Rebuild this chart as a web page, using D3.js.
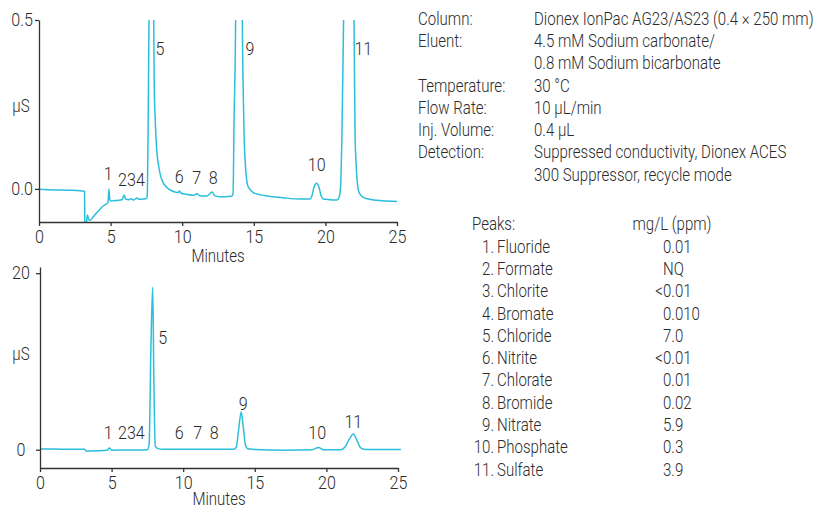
<!DOCTYPE html>
<html>
<head>
<meta charset="utf-8">
<script src="https://cdn.jsdelivr.net/npm/d3@7"></script>
<style>
  body { margin: 0; background: #fff; }
  svg text { font-family: "Roboto", "Liberation Sans", sans-serif; font-weight: 300; fill: #2b2b2b; }
  .axis path, .axis line { stroke: #333; stroke-width: 1.3; }
  .trace { fill: none; stroke: #2bbfdc; stroke-width: 1.5; }
</style>
</head>
<body>
<svg id="chart" width="839" height="510"></svg>
<script>
// top chromatogram (zoomed baseline)
const topMinutes = [0, 1, 2, 3, 3.18, 3.2, 3.3, 3.38, 3.5, 3.6, 3.8, 4.0, 4.26, 4.5, 4.72, 4.82, 4.88, 4.94, 5.0,
  5.2, 5.5, 5.8, 5.95, 6.05, 6.3, 6.45, 6.6, 6.85, 7.0, 7.3, 7.5, 7.56, 7.6, 7.68, 7.85, 8.01, 8.05, 8.12, 8.22,
  8.35, 8.45, 8.65, 8.92, 9.2, 9.5, 9.7, 9.8, 9.9, 10.3, 10.8, 11.05, 11.2, 11.7, 12.0, 12.1, 12.25, 12.6, 13.0,
  13.45, 13.55, 13.62, 13.73, 13.95, 14.2, 14.28, 14.39, 14.6, 14.96, 15.4, 15.9, 17.0, 18.2, 18.9, 19.05, 19.2,
  19.39, 19.55, 19.7, 19.85, 20.3, 20.8, 20.95, 21.05, 21.15, 21.27, 21.7, 22.0, 22.07, 22.15, 22.3, 22.45, 22.65,
  23.0, 23.35, 24.0, 25.0];
const topMicroS = [-0.001, -0.003, -0.004, -0.006, -0.007, -0.1, -0.105, -0.077, -0.093, -0.092, -0.082, -0.072,
  -0.06, -0.05, -0.044, -0.04, 0.0, -0.03, -0.036, -0.035, -0.034, -0.032, -0.018, -0.03, -0.032, -0.029, -0.033,
  -0.027, -0.031, -0.03, -0.028, -0.02, 0.1, 0.5, 18.4, 0.5, 0.3, 0.2, 0.115, 0.07, 0.046, 0.02, 0.005, -0.004,
  -0.009, -0.011, -0.006, -0.012, -0.016, -0.019, -0.014, -0.02, -0.021, -0.012, -0.009, -0.02, -0.023, -0.023,
  -0.022, -0.015, 0.2, 0.5, 4.3, 0.5, 0.25, 0.086, 0.007, -0.011, -0.017, -0.021, -0.026, -0.03, -0.03, -0.022,
  0.005, 0.017, 0.005, -0.02, -0.03, -0.032, -0.033, -0.025, 0.0, 0.15, 0.5, 1.8, 0.5, 0.165, 0.07, -0.003,
  -0.018, -0.025, -0.03, -0.033, -0.035, -0.037];

// bottom chromatogram (full scale)
const bottomMinutes = [0, 1, 2, 3.1, 3.25, 4.0, 4.7, 4.85, 5.0, 6.0, 7.0, 7.5, 7.62, 7.75, 7.87, 7.95, 8.05, 8.2,
  8.6, 10, 12, 13.5, 13.7, 13.85, 14.05, 14.2, 14.35, 14.5, 15, 17, 19, 19.45, 19.8, 21.0, 21.3, 21.6, 21.88,
  22.1, 22.4, 22.7, 25.2];
const bottomMicroS = [0.08, 0.07, 0.06, 0.05, -0.15, -0.12, -0.05, 0.2, -0.05, -0.02, -0.02, 0.0, 0.6, 12, 18.4,
  8, 0.4, 0.15, 0.05, 0.05, 0.05, 0.05, 0.25, 2.0, 4.27, 2.5, 0.5, 0.1, 0.03, -0.05, 0.0, 0.25, 0.0, 0.0, 0.3,
  1.2, 1.78, 1.2, 0.2, 0.03, 0.02];

// peak number labels: [text, minutes, µS]
const topPeakLabels = [["1", 4.84, 0.039], ["234", 6.46, 0.022], ["5", 8.45, 0.409], ["6", 9.8, 0.032],
  ["7", 11.01, 0.027], ["8", 12.17, 0.029], ["9", 14.74, 0.409], ["10", 19.39, 0.066], ["11", 22.65, 0.409]];
const bottomPeakLabels = [["1", 4.77, 1.7], ["234", 6.38, 1.7], ["5", 8.57, 12.5], ["6", 9.73, 1.7],
  ["7", 11.01, 1.7], ["8", 12.17, 1.7], ["9", 14.2, 5.0], ["10", 19.36, 1.7], ["11", 21.88, 3.04]];

const xTicks = [0, 5, 10, 15, 20, 25];
const topYTicks = [0, 0.5];
const bottomYTicks = [0, 20];

const conditionLabels = ["Column:", "Eluent:", "", "Temperature:", "Flow Rate:", "Inj. Volume:", "Detection:", ""];
const conditionValues = ["Dionex IonPac AG23/AS23 (0.4 × 250 mm)", "4.5 mM Sodium carbonate/",
  "0.8 mM Sodium bicarbonate", "30 °C", "10 µL/min", "0.4 µL", "Suppressed conductivity, Dionex ACES",
  "300 Suppressor, recycle mode"];

const peakNames = ["Fluoride", "Formate", "Chlorite", "Bromate", "Chloride", "Nitrite", "Chlorate", "Bromide",
  "Nitrate", "Phosphate", "Sulfate"];
const peakConcentrations = ["0.01", "NQ", "<0.01", "0.010", "7.0", "<0.01", "0.01", "0.02", "5.9", "0.3", "3.9"];

const svg = d3.select("#chart");
const fontSize = 17.5;
const wordSquash = 0.86;   // the original uses a condensed face
const digitSquash = 0.92;

// squeeze text horizontally around its own x anchor
function condense(sel, k) {
    sel.each(function() {
        const t = d3.select(this);
        const x = +t.attr("x") || 0;
        t.attr("transform", `translate(${x},0) scale(${k},1) translate(${-x},0)`);
    });
}

function drawPanel(opts) {
    const g = svg.append("g");
    const x = d3.scaleLinear().domain([0, 25]).range([opts.left, opts.right]);
    const y = d3.scaleLinear().domain(opts.yDomain).range([opts.bottom, opts.top]);

    g.append("clipPath").attr("id", opts.id)
        .append("rect")
        .attr("x", opts.left).attr("y", opts.top)
        .attr("width", opts.right - opts.left + 10).attr("height", opts.bottom - opts.top);

    const points = opts.minutes.map((t, i) => [t, opts.values[i]]);
    const line = d3.line().x(d => x(d[0])).y(d => y(d[1])).curve(d3.curveMonotoneX);

    g.append("path")
        .attr("class", "trace")
        .attr("clip-path", `url(#${opts.id})`)
        .attr("d", line(points));

    const xAxis = g.append("g")
        .attr("class", "axis")
        .attr("transform", `translate(0,${opts.bottom})`)
        .call(d3.axisBottom(x).tickValues(xTicks).tickSize(4).tickSizeOuter(0).tickPadding(5));
    xAxis.attr("font-family", null);
    xAxis.selectAll("text").attr("font-size", fontSize).style("fill", "#2b2b2b")
        .call(condense, digitSquash);

    const yAxis = g.append("g")
        .attr("class", "axis")
        .attr("transform", `translate(${opts.left},0)`)
        .call(d3.axisLeft(y).tickValues(opts.yTicks).tickFormat(opts.yFormat)
            .tickSize(4).tickSizeOuter(0).tickPadding(opts.yPad));
    yAxis.attr("font-family", null);
    yAxis.selectAll("text").attr("font-size", fontSize).style("fill", "#2b2b2b")
        .attr("text-anchor", opts.yAnchor).attr("x", opts.yLabelX)
        .call(condense, digitSquash);

    g.append("text")
        .attr("x", 21).attr("y", opts.unitY)
        .attr("text-anchor", "middle").attr("dominant-baseline", "middle")
        .attr("font-size", fontSize)
        .text("µS")
        .call(condense, wordSquash);

    g.append("text")
        .attr("x", (opts.left + opts.right) / 2).attr("y", opts.titleY)
        .attr("text-anchor", "middle").attr("dominant-baseline", "middle")
        .attr("font-size", fontSize)
        .text("Minutes")
        .call(condense, wordSquash);

    g.selectAll(".peak")
        .data(opts.labels)
        .join("text")
        .attr("class", "peak")
        .attr("x", d => x(d[1])).attr("y", d => y(d[2]))
        .attr("text-anchor", "middle").attr("dominant-baseline", "middle")
        .attr("font-size", fontSize)
        .text(d => d[0])
        .call(condense, digitSquash);
}

drawPanel({
    id: "clipTop", left: 39, right: 397, top: 20, bottom: 222,
    yDomain: [-0.098, 0.5], yTicks: topYTicks, yFormat: d3.format(".1f"),
    yPad: 2, yAnchor: "end", yLabelX: -6,
    minutes: topMinutes, values: topMicroS, labels: topPeakLabels,
    unitY: 107, titleY: 257
});

drawPanel({
    id: "clipBottom", left: 40, right: 398, top: 267, bottom: 468,
    yDomain: [-2.07, 20.7], yTicks: bottomYTicks, yFormat: d3.format("d"),
    yPad: 2, yAnchor: "middle", yLabelX: -19,
    minutes: bottomMinutes, values: bottomMicroS, labels: bottomPeakLabels,
    unitY: 355, titleY: 500
});

// conditions block
const lineH = 22.3;
const cond = svg.append("g").attr("font-size", fontSize);
cond.selectAll(".clabel")
    .data(conditionLabels)
    .join("text")
    .attr("x", 418).attr("y", (d, i) => 20 + i * lineH)
    .attr("dominant-baseline", "middle")
    .text(d => d)
    .call(condense, wordSquash);
cond.selectAll(".cvalue")
    .data(conditionValues)
    .join("text")
    .attr("x", 534).attr("y", (d, i) => 20 + i * lineH)
    .attr("dominant-baseline", "middle")
    .text(d => d)
    .call(condense, wordSquash);

// peaks table
const tbl = svg.append("g").attr("font-size", fontSize);
tbl.append("text").attr("x", 472).attr("y", 225).attr("dominant-baseline", "middle").text("Peaks:");
tbl.append("text").attr("x", 672).attr("y", 225).attr("text-anchor", "middle")
    .attr("dominant-baseline", "middle").text("mg/L (ppm)");

peakNames.forEach((name, i) => {
    const yy = 248 + i * lineH;
    tbl.append("text").attr("x", 494).attr("y", yy).attr("text-anchor", "end")
        .attr("dominant-baseline", "middle").text(`${i + 1}.`);
    tbl.append("text").attr("x", 497).attr("y", yy)
        .attr("dominant-baseline", "middle").text(name);
    const v = peakConcentrations[i];
    if (v.startsWith("<")) {
        tbl.append("text").attr("x", 663).attr("y", yy).attr("text-anchor", "end")
            .attr("dominant-baseline", "middle").text("<");
        tbl.append("text").attr("x", 663).attr("y", yy)
            .attr("dominant-baseline", "middle").text(v.slice(1));
    } else {
        tbl.append("text").attr("x", 663).attr("y", yy)
            .attr("dominant-baseline", "middle").text(v);
    }
});
tbl.selectAll("text").call(condense, wordSquash);
</script>
</body>
</html>
